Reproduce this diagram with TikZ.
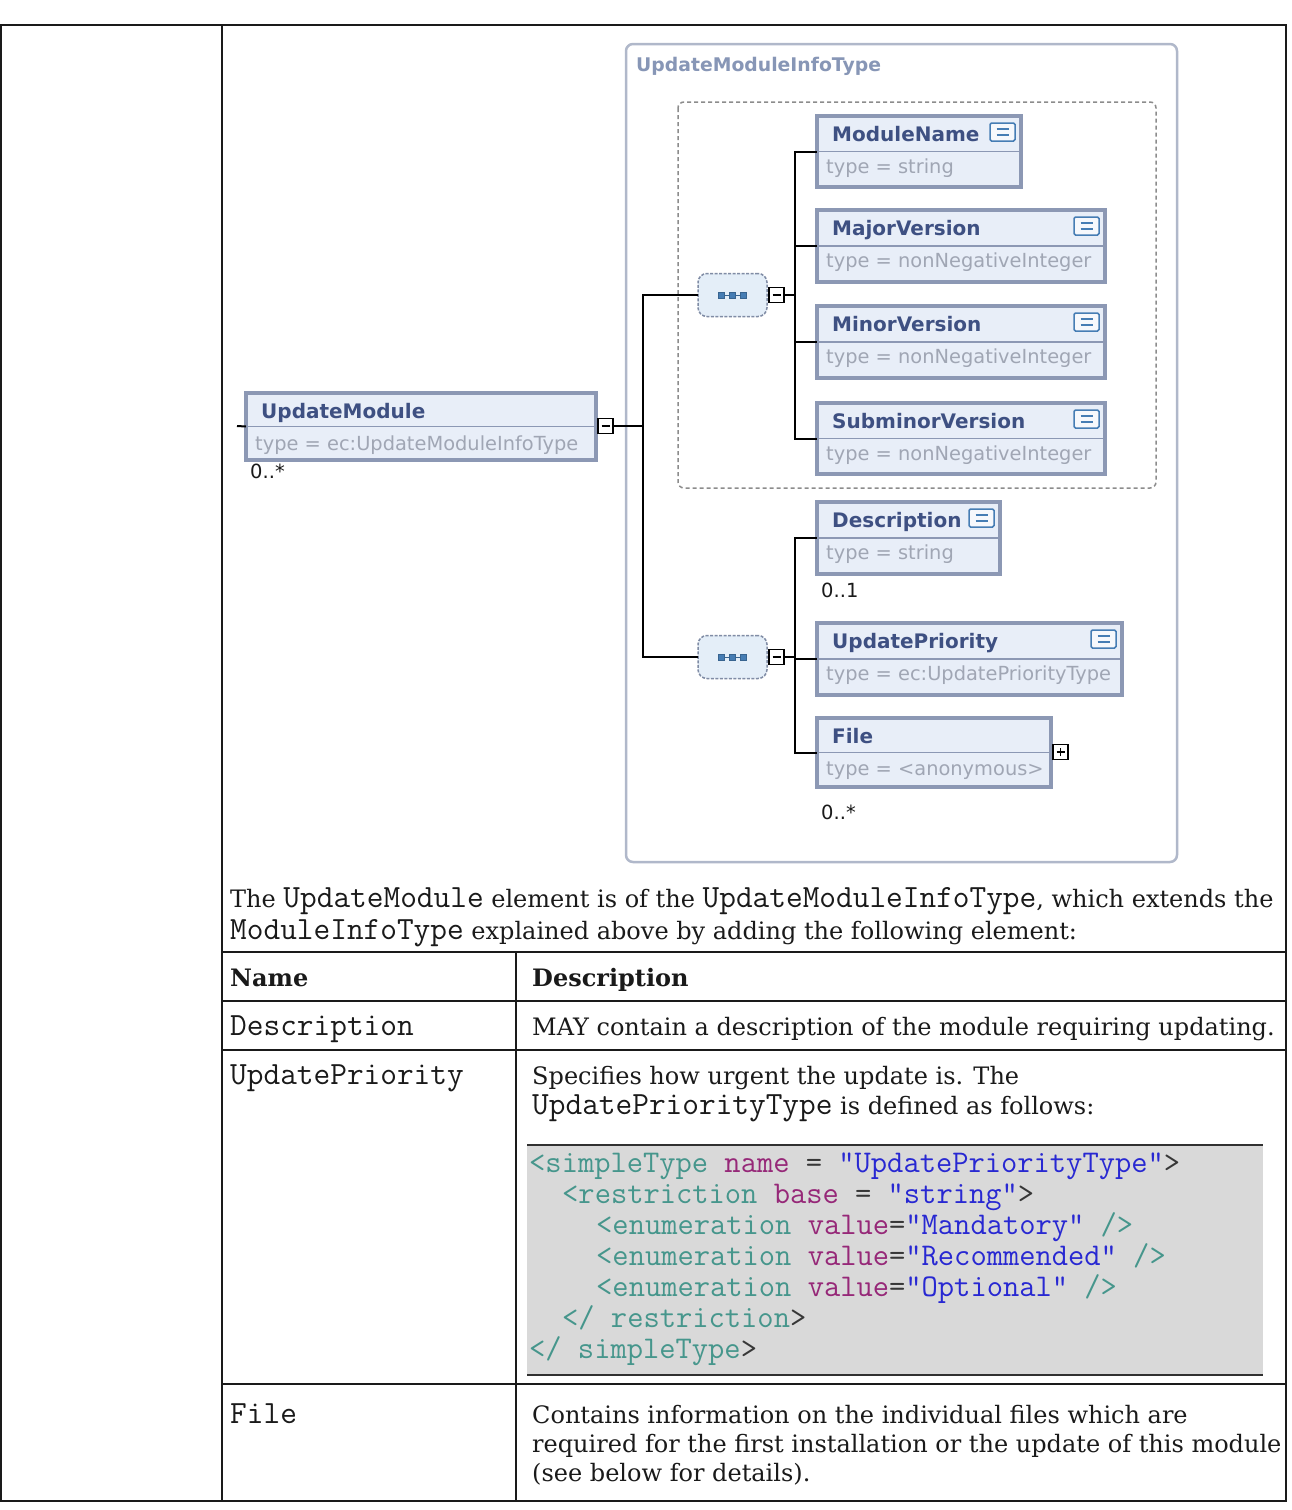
\documentclass[tikz,border=0pt]{standalone}
\usepackage{fontspec}
\setmainfont{DejaVu Serif}
\newfontfamily\dvs{DejaVu Sans}
\definecolor{elemfill}{RGB}{232,238,248}
\definecolor{elemborder}{RGB}{140,152,180}
\definecolor{elemname}{RGB}{62,80,130}
\definecolor{typetext}{RGB}{160,166,180}
\definecolor{contborder}{RGB}{176,184,202}
\definecolor{conttitle}{RGB}{135,150,182}
\definecolor{dashgray}{RGB}{140,140,140}
\definecolor{compfill}{RGB}{228,238,248}
\definecolor{compborder}{RGB}{128,140,165}
\definecolor{iconblue}{RGB}{70,125,180}
\definecolor{tagc}{RGB}{70,150,140}
\definecolor{attc}{RGB}{150,40,120}
\definecolor{strc}{RGB}{40,40,210}
\definecolor{eqc}{RGB}{55,55,55}
\definecolor{codebg}{RGB}{217,217,217}
\definecolor{ink}{RGB}{26,26,26}
\newcommand{\mtt}[1]{{\fontsize{32.4}{36}\ttfamily #1}}
\tikzset{
  tbl/.style={draw=ink, line width=2},
  elembox/.style={draw=elemborder, fill=elemfill, line width=3.5, inner sep=0, outer sep=0},
  elemdiv/.style={draw=elemborder, line width=1.5},
  ename/.style={font={\dvs\bfseries\fontsize{20}{22}\selectfont}, text=elemname, anchor=base west, inner sep=0},
  etype/.style={font={\dvs\fontsize{19.4}{22}\selectfont}, text=typetext, anchor=base west, inner sep=0},
  card/.style={font={\dvs\fontsize{19.5}{22}\selectfont}, text=ink, anchor=base west, inner sep=0},
  eqicon/.style={draw=iconblue, fill=white!60!elemfill, line width=1.5, rounded corners=1.5, minimum width=25, minimum height=18, inner sep=0, outer sep=0},
  comp/.style={draw=compborder, fill=compfill, line width=1.5, dash pattern=on 3 off 1.5, rounded corners=9, minimum width=69, minimum height=43, inner sep=0, outer sep=0},
  togbox/.style={draw=black, fill=white, line width=1.6, minimum width=15, minimum height=15, inner sep=0, outer sep=0},
  conn/.style={draw=black, line width=2},
  body/.style={font={\fontsize{24}{29}\selectfont}, text=ink, anchor=base west, inner sep=0},
  bodyb/.style={body, font={\bfseries\fontsize{24}{29}\selectfont}},
  monot/.style={font={\ttfamily\fontsize{32.4}{36}\selectfont}, text=ink, anchor=base west, inner sep=0},
  codet/.style={font={\ttfamily\fontsize{31.6}{36}\selectfont}, text=eqc, anchor=base west, inner sep=0},
}
\newcommand{\xelem}[7]{%
  \node[elembox, minimum width={#4-#2}, minimum height={#5-#3}, anchor=north west] (#1) at (#2,#3) {};
  \draw[elemdiv] ([xshift=2]#1.west) -- ([xshift=-2]#1.east);
  \node[ename] (#1-n) at ([shift={(15,25)}]#1.north west) {#6};
  \node[etype] (#1-t) at ([shift={(9,57)}]#1.north west) {#7};
}
\newcommand{\xicon}[1]{%
  \node[eqicon, anchor=north east] (#1-i) at ([shift={(-6,7)}]#1.north east) {};
  \draw[iconblue, line width=1.5] ([shift={(-6,-3)}]#1-i.center) -- ([shift={(6,-3)}]#1-i.center);
  \draw[iconblue, line width=1.5] ([shift={(-6,3)}]#1-i.center) -- ([shift={(6,3)}]#1-i.center);
}
\newcommand{\xcomp}[3]{% id, x, y
  \node[comp, anchor=west] (#1) at (#2,#3) {};
  \draw[iconblue!80!black, line width=1] ([xshift=-11]#1.center) -- ([xshift=11]#1.center);
  \foreach \dx in {-11,0,11}{
    \draw[iconblue!80!black, fill=iconblue, line width=0.8] ([shift={(\dx-3,-3)}]#1.center) rectangle ([shift={(\dx+3,3)}]#1.center);
  }
  \node[togbox, anchor=west] (#1m) at (#2+71,#3) {};
  \draw[black, line width=1.6] ([xshift=-4]#1m.center) -- ([xshift=4]#1m.center);
}
\begin{document}
\begin{tikzpicture}[x=1pt,y=-1pt]
\useasboundingbox (0,0) rectangle (1292,1510);
\fill[white] (0,0) rectangle (1292,1510);

% ---------- outer table ----------
\draw[tbl] (1,25) rectangle (1286,1501);
\draw[tbl] (222,25) -- (222,1501);
\draw[tbl] (222,952) -- (1286,952);
\draw[tbl] (222,1001) -- (1286,1001);
\draw[tbl] (222,1050) -- (1286,1050);
\draw[tbl] (222,1384) -- (1286,1384);
\draw[tbl] (516,952) -- (516,1501);

% ---------- diagram ----------
\draw[draw=contborder, line width=2.5, rounded corners=7] (626,44) rectangle (1177,862);
\node[font={\dvs\bfseries\fontsize{18.8}{22}\selectfont}, text=conttitle, anchor=base west, inner sep=0] (ctitle) at (636,71) {UpdateModuleInfoType};
\draw[draw=dashgray, line width=1.5, dash pattern=on 4 off 3, rounded corners=6] (678,102) rectangle (1156,488);

\xelem{um}{246}{393}{596}{460}{UpdateModule}{type = ec:UpdateModuleInfoType}
\node[togbox, anchor=west] (umm) at (598,426) {};
\draw[black, line width=1.6] ([xshift=-4]umm.center) -- ([xshift=4]umm.center);
\node[card] (umc) at (250,478) {0..*};
\coordinate (umin) at (237,426);
\draw[conn] (umin) -- (um.west);

\xelem{mn}{817}{116}{1021}{187}{ModuleName}{type = string}
\xicon{mn}
\xelem{majv}{817}{210}{1105}{282}{MajorVersion}{type = nonNegativeInteger}
\xicon{majv}
\xelem{minv}{817}{306}{1105}{378}{MinorVersion}{type = nonNegativeInteger}
\xicon{minv}
\xelem{subv}{817}{403}{1105}{474}{SubminorVersion}{type = nonNegativeInteger}
\xicon{subv}

\xelem{desc}{817}{502}{1000}{574}{Description}{type = string}
\xicon{desc}
\node[card] (descc) at (821,597) {0..1};
\xelem{upr}{817}{623}{1122}{695}{UpdatePriority}{type = ec:UpdatePriorityType}
\xicon{upr}
\xelem{file}{817}{718}{1051}{787}{File}{type = <anonymous>}
\node[togbox, anchor=west] (filep) at (1053,752) {};
\draw[black, line width=1.6] ([xshift=-4]filep.center) -- ([xshift=4]filep.center);
\draw[black, line width=1.6] ([yshift=-4]filep.center) -- ([yshift=4]filep.center);
\node[card] (filec) at (821,819) {0..*};

\xcomp{seqa}{698}{295}
\xcomp{seqb}{698}{657}

\draw[conn] (umm.east) -- ++(30,0) |- (seqa.west);
\draw[conn] (umm.east) -- ++(30,0) |- (seqb.west);
\foreach \t in {mn,majv,minv,subv}{
  \draw[conn] (seqam.east) -- ++(11,0) |- (\t.west);
}
\foreach \t in {desc,upr,file}{
  \draw[conn] (seqbm.east) -- ++(11,0) |- (\t.west);
}

% ---------- text ----------
\node[body] (p1) at (230,907) {The \mtt{UpdateModule} element is of the \mtt{UpdateModuleInfoType}, which extends the};
\node[body] (p2) at (230,939) {\mtt{ModuleInfoType} explained above by adding the following element:};

\node[bodyb] (hname) at (230,986) {Name};
\node[bodyb] (hdesc) at (532,986) {Description};

\node[monot] (r1n) at (230,1035) {Description};
\node[body] (r1d) at (532,1035) {MAY contain a description of the module requiring updating.};

\node[monot] (r2n) at (230,1084) {UpdatePriority};
\node[body] (r2d1) at (532,1084) {Specifies how urgent the update is. The};
\node[body] (r2d2) at (532,1114) {\mtt{UpdatePriorityType} is defined as follows:};

\fill[codebg] (527,1145) rectangle (1263,1375);
\draw[draw=ink!90, line width=1.8] (527,1145) -- (1263,1145);
\draw[draw=ink!90, line width=2.2] (527,1375) -- (1263,1375);
\node[codet] (c1) at (529,1172) {{\color{tagc}<simpleType} {\color{attc}name} = {\color{strc}"UpdatePriorityType"}>};
\node[codet] (c2) at (562,1203) {{\color{tagc}<restriction} {\color{attc}base} = {\color{strc}"string"}>};
\node[codet] (c3) at (596,1234) {{\color{tagc}<enumeration} {\color{attc}value}={\color{strc}"Mandatory"} {\color{tagc}/>}};
\node[codet] (c4) at (596,1265) {{\color{tagc}<enumeration} {\color{attc}value}={\color{strc}"Recommended"} {\color{tagc}/>}};
\node[codet] (c5) at (596,1296) {{\color{tagc}<enumeration} {\color{attc}value}={\color{strc}"Optional"} {\color{tagc}/>}};
\node[codet] (c6) at (562,1327) {{\color{tagc}</ restriction}>};
\node[codet] (c7) at (529,1358) {{\color{tagc}</ simpleType}>};

\node[monot] (r3n) at (230,1423) {File};
\node[body] (r3d1) at (532,1423) {Contains information on the individual files which are};
\node[body] (r3d2) at (532,1452) {required for the first installation or the update of this module};
\node[body] (r3d3) at (532,1481) {(see below for details).};
\end{tikzpicture}
\end{document}
